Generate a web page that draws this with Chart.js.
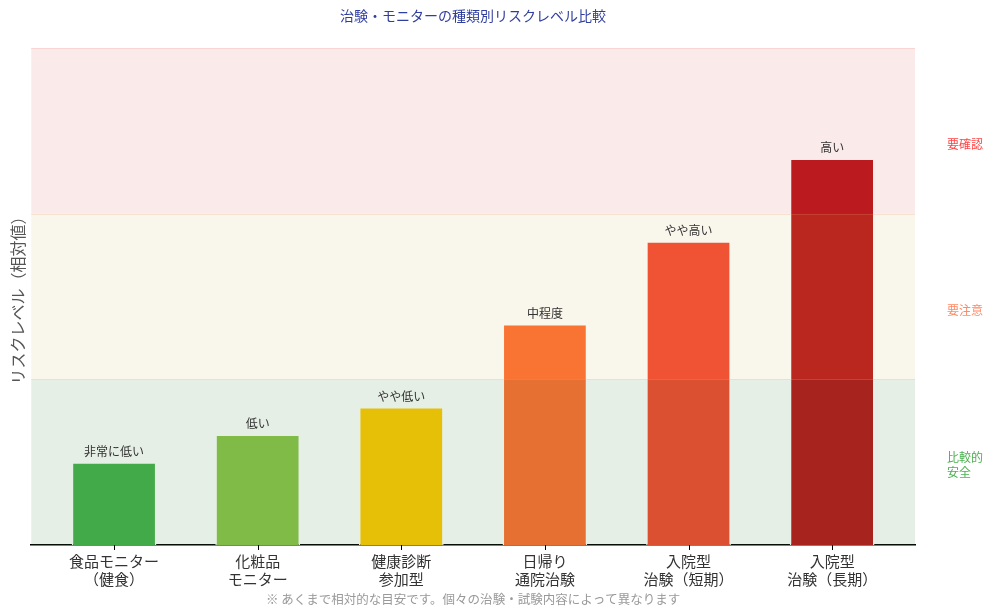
<!DOCTYPE html>
<html lang="ja">
<head>
  <meta charset="utf-8">
  <title>治験・モニターの種類別リスクレベル比較</title>
  <script src="https://cdn.jsdelivr.net/npm/chart.js@4"></script>
  <style>
body {
  margin: 0;
  background: #fff;
}
#wrap {
  width: 993px;
  height: 616px;
}
  </style>
</head>
<body>
  <div id="wrap"><canvas id="risk-chart"></canvas></div>
  <script type="text/javascript">
const categories = [
  ['食品モニター', '（健食）'],
  ['化粧品', 'モニター'],
  ['健康診断', '参加型'],
  ['日帰り', '通院治験'],
  ['入院型', '治験（短期）'],
  ['入院型', '治験（長期）']
];
const riskValues = [1.5, 2.0, 2.5, 4.0, 5.5, 7.0];
const riskLabels = ['非常に低い', '低い', 'やや低い', '中程度', 'やや高い', '高い'];
const barColors = ['#46B14E', '#8BC34A', '#FFCA00', '#FF6F33', '#F44A33', '#B8191C'];

const chartTitle = '治験・モニターの種類別リスクレベル比較';
const footNote = '※ あくまで相対的な目安です。個々の治験・試験内容によって異なります';

// zones: from, to, fill, edge, label, label colour, label position
const zoneFrom = [0, 3, 6];
const zoneTo = [3, 6, 9];
const zoneFill = ['rgba(46,125,50,0.12)', 'rgba(200,170,60,0.10)', 'rgba(211,47,47,0.10)'];
const zoneEdge = ['rgba(190,200,90,0.25)', 'rgba(240,150,110,0.22)', 'rgba(240,150,140,0.25)'];
const zoneNames = [['比較的', '安全'], ['要注意'], ['要確認']];
const zoneNameColors = ['#4CAF50', '#FF8A65', '#FF4444'];
const zoneNameAt = [1.45, 4.25, 7.25];

const FONT = '"Noto Sans CJK JP", "Noto Sans", sans-serif';

// category axis has a little extra room at both ends
const xPad = 0.577;

// bands are laid over the bars, which is why the lower parts look tinted
const zonePlugin = {
  id: 'zones',
  afterDatasetsDraw(chart) {
    const { ctx, chartArea: a, scales: { y } } = chart;
    ctx.save();
    for (let i = 0; i < zoneFrom.length; i++) {
      const top = y.getPixelForValue(zoneTo[i]);
      const bot = y.getPixelForValue(zoneFrom[i]);
      ctx.fillStyle = zoneFill[i];
      ctx.fillRect(a.left, top, a.right - a.left, bot - top);
    }
    ctx.lineWidth = 1;
    for (let i = 0; i < zoneFrom.length; i++) {
      const top = Math.round(y.getPixelForValue(zoneTo[i])) + 0.5;
      ctx.strokeStyle = zoneEdge[i];
      ctx.beginPath();
      ctx.moveTo(a.left, top);
      ctx.lineTo(a.right, top);
      ctx.stroke();
    }
    // value labels above bars
    const meta = chart.getDatasetMeta(0);
    ctx.font = '12px ' + FONT;
    ctx.fillStyle = '#333';
    ctx.textAlign = 'center';
    ctx.textBaseline = 'bottom';
    meta.data.forEach((bar, i) => {
      ctx.fillText(riskLabels[i], bar.x, bar.y - 5);
    });
    // zone names on the right
    ctx.textAlign = 'left';
    ctx.textBaseline = 'middle';
    for (let i = 0; i < zoneNames.length; i++) {
      const lines = zoneNames[i];
      const cy = y.getPixelForValue(zoneNameAt[i]);
      ctx.fillStyle = zoneNameColors[i];
      lines.forEach((t, k) => {
        ctx.fillText(t, a.right + 32, cy + (k - (lines.length - 1) / 2) * 15);
      });
    }
    ctx.restore();
  },
  afterDraw(chart) {
    // title and note are centred on the plot area, not the canvas
    const { ctx, chartArea: a, scales: { x } } = chart;
    const cx = (a.left + a.right) / 2;
    ctx.save();
    // small tick marks under each category
    ctx.strokeStyle = '#000';
    ctx.lineWidth = 1;
    categories.forEach((c, i) => {
      const px = Math.round(x.getPixelForValue(i)) + 0.5;
      ctx.beginPath();
      ctx.moveTo(px, a.bottom);
      ctx.lineTo(px, a.bottom + 5);
      ctx.stroke();
    });
    ctx.textAlign = 'center';
    ctx.textBaseline = 'middle';
    ctx.font = '14px ' + FONT;
    ctx.fillStyle = '#303F9F';
    ctx.fillText(chartTitle, cx, 16);
    ctx.font = '12.5px ' + FONT;
    ctx.fillStyle = '#999';
    ctx.fillText(footNote, cx, 599);
    ctx.restore();
  }
};

const config = {
  type: 'bar',
  data: {
    datasets: [{
      data: riskValues.map((v, i) => ({ x: i, y: v })),
      backgroundColor: barColors,
      borderColor: '#ffffff',
      borderWidth: 1.5,
      barPercentage: 0.59,
      categoryPercentage: 1.0
    }]
  },
  options: {
    responsive: true,
    maintainAspectRatio: false,
    animation: false,
    layout: {
      padding: { left: -3, right: 78, top: 48, bottom: 29 }
    },
    scales: {
      x: {
        type: 'linear',
        offset: false,
        min: -xPad,
        max: categories.length - 1 + xPad,
        afterBuildTicks: (scale) => {
          scale.ticks = categories.map((c, i) => ({ value: i }));
        },
        grid: { display: false },
        border: { display: true, color: '#000', width: 1.5 },
        ticks: {
          color: '#333',
          font: { family: FONT, size: 15, lineHeight: 1.2 },
          padding: -1,
          maxRotation: 0,
          autoSkip: false,
          callback: (value) => categories[value]
        }
      },
      y: {
        min: 0,
        max: 9,
        grid: { display: false },
        border: { display: false },
        ticks: { display: false },
        title: {
          display: true,
          text: 'リスクレベル（相対値）',
          color: '#555',
          font: { family: FONT, size: 16 },
          padding: { top: 11, bottom: -4 }
        }
      }
    },
    plugins: {
      legend: { display: false },
      tooltip: { enabled: false },
      title: { display: false }
    }
  },
  plugins: [zonePlugin]
};

const riskChart = new Chart(document.getElementById('risk-chart'), config);
  </script>
</body>
</html>
